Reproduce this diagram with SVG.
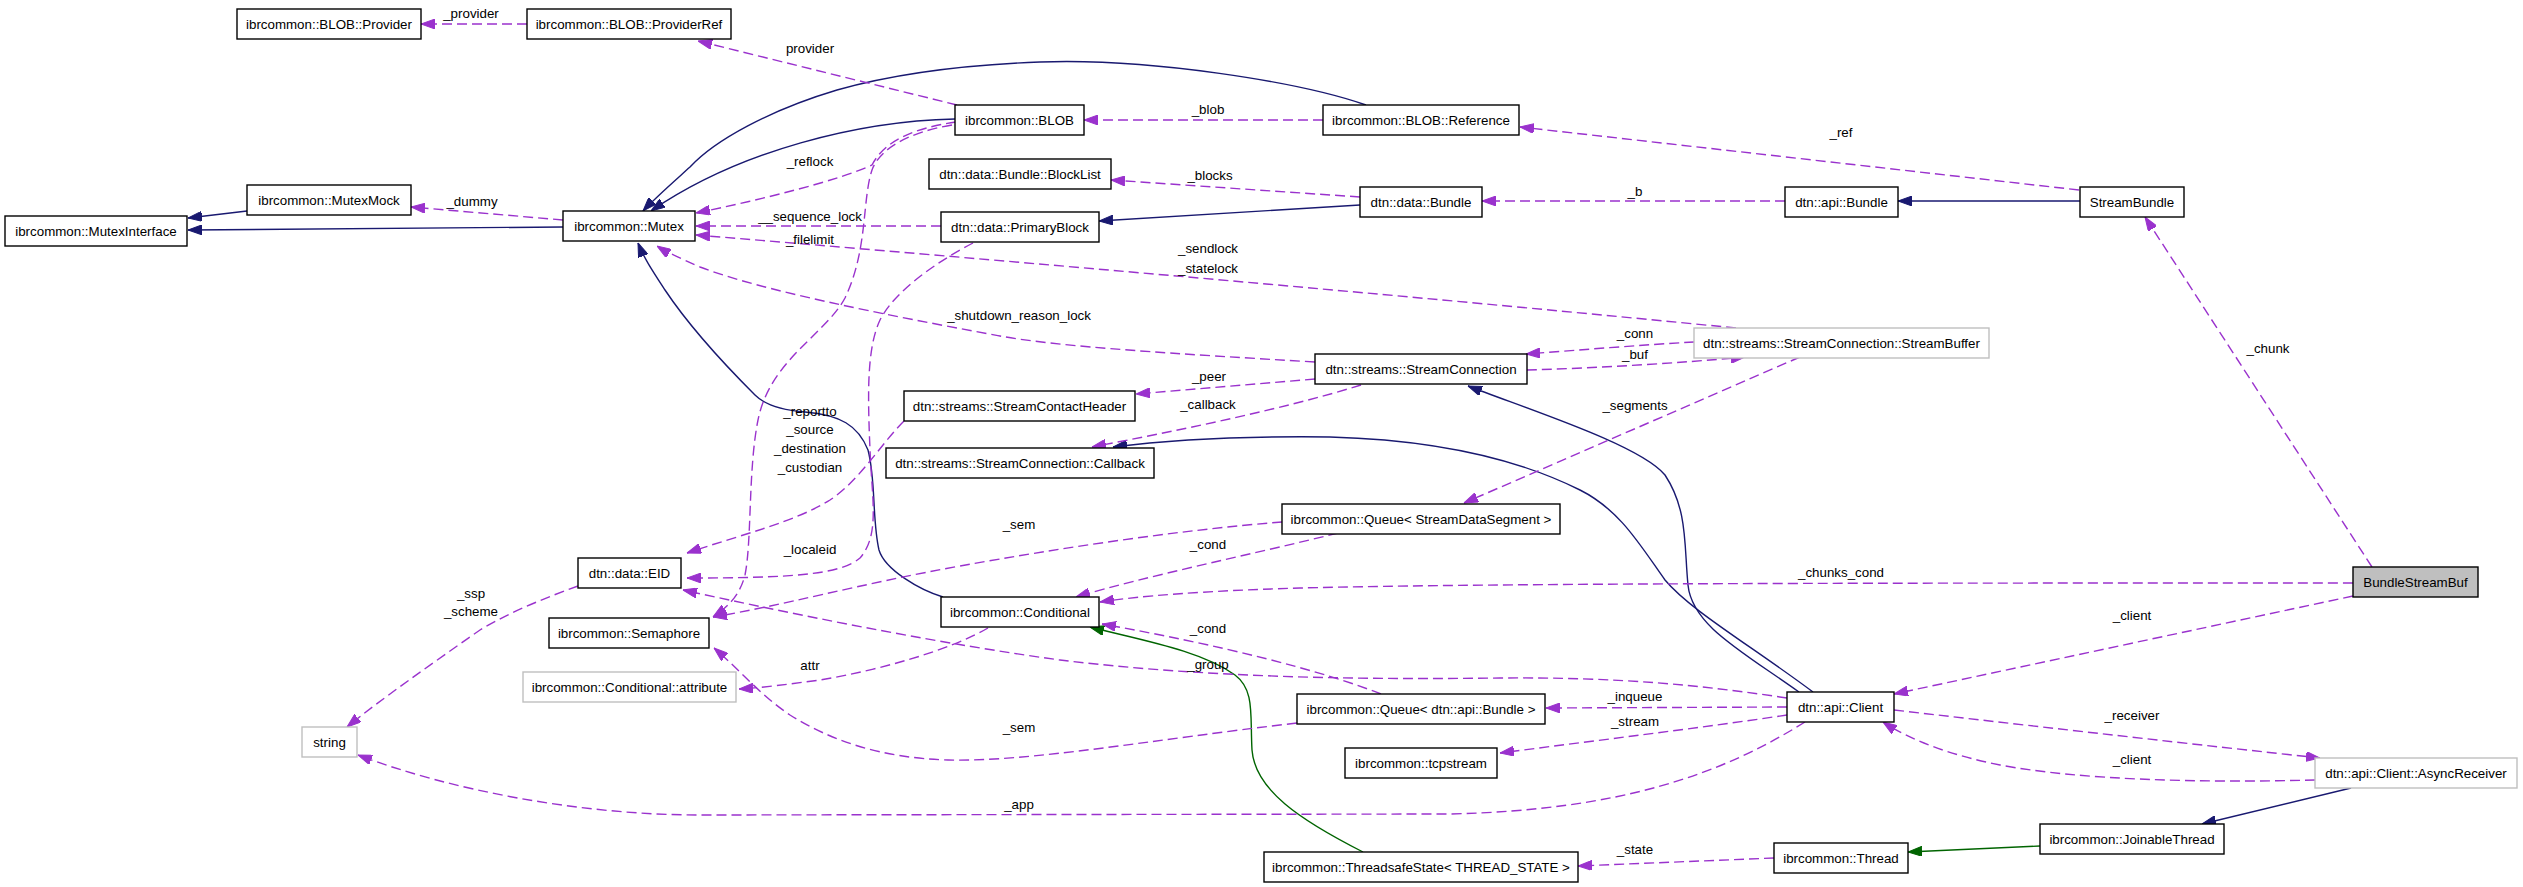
<svg xmlns="http://www.w3.org/2000/svg" width="2523" height="887" viewBox="0 0 2523 887">
<style>
.bg{fill:#fff}
.n rect{fill:#fff;stroke:#000;stroke-width:1.4}
.n.u rect{stroke:#bfbfbf}
.n.g rect{fill:#bfbfbf}
text{font-family:"Liberation Sans",Arial,Helvetica,sans-serif;font-size:13.33px;fill:#000}
.n text{text-anchor:middle}
.lbl text{text-anchor:middle}
.e path{fill:none;stroke-width:1.4}
.inh{stroke:#191970;marker-end:url(#aN)}
.prot{stroke:#006400;marker-end:url(#aG)}
.use{stroke:#9a32cd;stroke-dasharray:10,5;marker-end:url(#aP)}
</style>
<defs>
<marker id="aN" viewBox="0 0 14 10" refX="14" refY="5" markerWidth="14" markerHeight="10" markerUnits="userSpaceOnUse" orient="auto"><path d="M0,0 L14,5 L0,10 z" fill="#191970" stroke="#191970"/></marker>
<marker id="aG" viewBox="0 0 14 10" refX="14" refY="5" markerWidth="14" markerHeight="10" markerUnits="userSpaceOnUse" orient="auto"><path d="M0,0 L14,5 L0,10 z" fill="#006400" stroke="#006400"/></marker>
<marker id="aP" viewBox="0 0 14 10" refX="14" refY="5" markerWidth="14" markerHeight="10" markerUnits="userSpaceOnUse" orient="auto"><path d="M0,0 L14,5 L0,10 z" fill="#9a32cd" stroke="#9a32cd"/></marker>
</defs>
<rect class="bg" x="0" y="0" width="2523" height="887"/>
<g id="connectors" class="e">
<path class="inh" d="M247,211 L188,218"/>
<path class="inh" d="M563,227 L188,230"/>
<path class="inh" d="M955,119 C860,121 740,150 651,211"/>
<path class="inh" d="M1366,105 C1300,82 1150,58 1040,62 C960,65 890,75 837,90 C770,110 715,140 690,167 C670,185 655,198 643,211"/>
<path class="inh" d="M1360,205 L1099,221"/>
<path class="inh" d="M2080,201 L1898,201"/>
<path class="inh" d="M943,597 C920,590 885,570 879,550 C872,520 876,480 868,450 C858,425 840,415 805,412 C780,410 765,405 755,395 C720,360 685,320 665,290 C652,270 644,258 638,243"/>
<path class="inh" d="M1799,692 C1740,650 1692,625 1688,585 C1684,545 1688,510 1665,475 C1640,445 1530,410 1468,386"/>
<path class="inh" d="M1813,692 C1750,645 1690,610 1665,580 C1640,545 1620,510 1580,490 C1520,460 1440,440 1330,437 C1250,436 1170,440 1113,447"/>
<path class="prot" d="M1363,852 C1300,820 1255,790 1252,750 C1250,715 1255,690 1235,675 C1200,650 1140,640 1090,627"/>
<path class="prot" d="M2040,846 L1908,852"/>
<path class="inh" d="M2351,788 L2202,824"/>
<path class="use" d="M527,24 L421,24"/>
<path class="use" d="M957,105 L698,41"/>
<path class="use" d="M1323,120 L1084,120"/>
<path class="use" d="M2079,190 L1520,127"/>
<path class="use" d="M1785,201 L1482,201"/>
<path class="use" d="M1360,197 L1111,180"/>
<path class="use" d="M956,122 C915,128 885,140 872,165 C840,180 760,200 696,213"/>
<path class="use" d="M952,125 C910,132 880,148 872,170 C862,200 868,250 845,298 C825,335 770,360 758,420 C748,470 752,540 745,575 C740,595 728,607 713,617"/>
<path class="use" d="M941,226 L696,226"/>
<path class="use" d="M1736,328 Q1300,285 696,235"/>
<path class="use" d="M1315,362 C1180,354 1060,347 1000,336 C880,314 760,290 700,267 C680,258 668,253 657,246"/>
<path class="use" d="M563,220 L411,207"/>
<path class="use" d="M973,243 C940,260 895,290 880,320 C866,350 868,400 870,450 C872,500 880,535 860,558 C840,575 790,578 687,578"/>
<path class="use" d="M904,421 C880,445 860,480 830,500 C795,522 740,535 687,553"/>
<path class="use" d="M1787,698 C1700,685 1620,677 1500,678 C1350,680 1200,677 1060,660 C950,645 820,620 683,590"/>
<path class="use" d="M1282,522 C1180,530 1060,548 960,566 C860,584 780,606 713,617"/>
<path class="use" d="M1338,533 C1250,555 1150,575 1076,597"/>
<path class="use" d="M2353,583 C1900,583 1500,583 1300,588 C1200,591 1140,596 1100,602"/>
<path class="use" d="M2372,567 L2145,217"/>
<path class="use" d="M2353,596 L1894,694"/>
<path class="use" d="M1787,707 L1546,708"/>
<path class="use" d="M1787,715 C1700,728 1600,740 1500,753"/>
<path class="use" d="M1805,722 C1720,775 1620,810 1450,814 L700,815 C580,815 450,790 358,755"/>
<path class="use" d="M1894,710 C2050,728 2200,745 2320,758"/>
<path class="use" d="M2315,780 C2200,783 2080,780 2000,765 C1950,755 1910,740 1883,722"/>
<path class="use" d="M1774,858 L1578,866"/>
<path class="use" d="M578,586 C545,598 510,612 480,630 C430,665 380,700 347,727"/>
<path class="use" d="M1315,379 L1136,394"/>
<path class="use" d="M1361,385 C1280,410 1180,430 1092,447"/>
<path class="use" d="M1694,342 C1640,345 1580,350 1526,354"/>
<path class="use" d="M1527,370 C1600,368 1680,363 1745,357"/>
<path class="use" d="M1800,357 L1464,503"/>
<path class="use" d="M1297,723 C1150,740 1030,762 948,760 C880,758 830,740 790,715 C760,695 740,670 714,648"/>
<path class="use" d="M1381,694 C1320,670 1220,645 1102,624"/>
<path class="use" d="M988,628 C950,650 880,670 820,680 C790,684 760,688 739,689"/>
</g>
<g id="edge-labels" class="lbl">
<text x="471" y="18">_provider</text>
<text x="810" y="53">provider</text>
<text x="1208" y="114">_blob</text>
<text x="810" y="166">_reflock</text>
<text x="1210" y="180">_blocks</text>
<text x="810" y="221">__sequence_lock</text>
<text x="810" y="244">_filelimit</text>
<text x="472" y="206">_dummy</text>
<text x="1208" y="253">_sendlock</text>
<text x="1208" y="273">_statelock</text>
<text x="1841" y="137">_ref</text>
<text x="1635" y="196">_b</text>
<text x="1019" y="320">_shutdown_reason_lock</text>
<text x="1635" y="338">_conn</text>
<text x="1635" y="359">_buf</text>
<text x="2268" y="353">_chunk</text>
<text x="1209" y="381">_peer</text>
<text x="1208" y="409">_callback</text>
<text x="1635" y="410">_segments</text>
<text x="810" y="416">_reportto</text>
<text x="810" y="434">_source</text>
<text x="810" y="453">_destination</text>
<text x="810" y="472">_custodian</text>
<text x="1019" y="529">_sem</text>
<text x="1208" y="549">_cond</text>
<text x="810" y="554">_localeid</text>
<text x="1841" y="577">_chunks_cond</text>
<text x="471" y="598">_ssp</text>
<text x="471" y="616">_scheme</text>
<text x="2132" y="620">_client</text>
<text x="1208" y="633">_cond</text>
<text x="810" y="670">attr</text>
<text x="1208" y="669">_group</text>
<text x="1635" y="701">_inqueue</text>
<text x="2132" y="720">_receiver</text>
<text x="1635" y="726">_stream</text>
<text x="1019" y="732">_sem</text>
<text x="2132" y="764">_client</text>
<text x="1019" y="809">_app</text>
<text x="1635" y="854">_state</text>
</g>
<g id="n_provider" class="n"><rect x="237" y="9" width="184" height="30"/><text x="329" y="29">ibrcommon::BLOB::Provider</text></g>
<g id="n_providerref" class="n"><rect x="527" y="9" width="204" height="30"/><text x="629" y="29">ibrcommon::BLOB::ProviderRef</text></g>
<g id="n_mutexmock" class="n"><rect x="247" y="185" width="164" height="30"/><text x="329" y="205">ibrcommon::MutexMock</text></g>
<g id="n_mutexinterface" class="n"><rect x="5" y="216" width="182" height="30"/><text x="96" y="236">ibrcommon::MutexInterface</text></g>
<g id="n_mutex" class="n"><rect x="563" y="211" width="132" height="30"/><text x="629" y="231">ibrcommon::Mutex</text></g>
<g id="n_blob" class="n"><rect x="955" y="105" width="129" height="30"/><text x="1019.5" y="125">ibrcommon::BLOB</text></g>
<g id="n_blobref" class="n"><rect x="1323" y="105" width="196" height="30"/><text x="1421" y="125">ibrcommon::BLOB::Reference</text></g>
<g id="n_blocklist" class="n"><rect x="929" y="159" width="182" height="30"/><text x="1020" y="179">dtn::data::Bundle::BlockList</text></g>
<g id="n_primaryblock" class="n"><rect x="941" y="212" width="158" height="30"/><text x="1020" y="232">dtn::data::PrimaryBlock</text></g>
<g id="n_databundle" class="n"><rect x="1360" y="187" width="122" height="30"/><text x="1421" y="207">dtn::data::Bundle</text></g>
<g id="n_apibundle" class="n"><rect x="1785" y="187" width="113" height="30"/><text x="1841.5" y="207">dtn::api::Bundle</text></g>
<g id="n_streambundle" class="n"><rect x="2080" y="187" width="104" height="30"/><text x="2132" y="207">StreamBundle</text></g>
<g id="n_streamconnection" class="n"><rect x="1315" y="354" width="212" height="30"/><text x="1421" y="374">dtn::streams::StreamConnection</text></g>
<g id="n_streambuffer" class="n u"><rect x="1694" y="328" width="295" height="30"/><text x="1841.5" y="348">dtn::streams::StreamConnection::StreamBuffer</text></g>
<g id="n_contactheader" class="n"><rect x="904" y="391" width="231" height="30"/><text x="1019.5" y="411">dtn::streams::StreamContactHeader</text></g>
<g id="n_callback" class="n"><rect x="886" y="448" width="268" height="30"/><text x="1020" y="468">dtn::streams::StreamConnection::Callback</text></g>
<g id="n_queuesds" class="n"><rect x="1282" y="504" width="278" height="30"/><text x="1421" y="524">ibrcommon::Queue&lt; StreamDataSegment &gt;</text></g>
<g id="n_eid" class="n"><rect x="578" y="558" width="103" height="30"/><text x="629.5" y="578">dtn::data::EID</text></g>
<g id="n_semaphore" class="n"><rect x="549" y="618" width="160" height="30"/><text x="629" y="638">ibrcommon::Semaphore</text></g>
<g id="n_conditional" class="n"><rect x="941" y="597" width="158" height="30"/><text x="1020" y="617">ibrcommon::Conditional</text></g>
<g id="n_bundlestreambuf" class="n g"><rect x="2353" y="567" width="125" height="30"/><text x="2415.5" y="587">BundleStreamBuf</text></g>
<g id="n_condattr" class="n u"><rect x="523" y="672" width="213" height="30"/><text x="629.5" y="692">ibrcommon::Conditional::attribute</text></g>
<g id="n_string" class="n u"><rect x="302" y="727" width="55" height="30"/><text x="329.5" y="747">string</text></g>
<g id="n_queueapi" class="n"><rect x="1297" y="694" width="248" height="30"/><text x="1421" y="714">ibrcommon::Queue&lt; dtn::api::Bundle &gt;</text></g>
<g id="n_tcpstream" class="n"><rect x="1345" y="748" width="152" height="30"/><text x="1421" y="768">ibrcommon::tcpstream</text></g>
<g id="n_client" class="n"><rect x="1787" y="692" width="107" height="30"/><text x="1840.5" y="712">dtn::api::Client</text></g>
<g id="n_asyncreceiver" class="n u"><rect x="2315" y="758" width="202" height="30"/><text x="2416" y="778">dtn::api::Client::AsyncReceiver</text></g>
<g id="n_joinablethread" class="n"><rect x="2040" y="824" width="184" height="30"/><text x="2132" y="844">ibrcommon::JoinableThread</text></g>
<g id="n_thread" class="n"><rect x="1774" y="843" width="134" height="30"/><text x="1841" y="863">ibrcommon::Thread</text></g>
<g id="n_threadsafestate" class="n"><rect x="1264" y="852" width="314" height="30"/><text x="1421" y="872">ibrcommon::ThreadsafeState&lt; THREAD_STATE &gt;</text></g>
</svg>
